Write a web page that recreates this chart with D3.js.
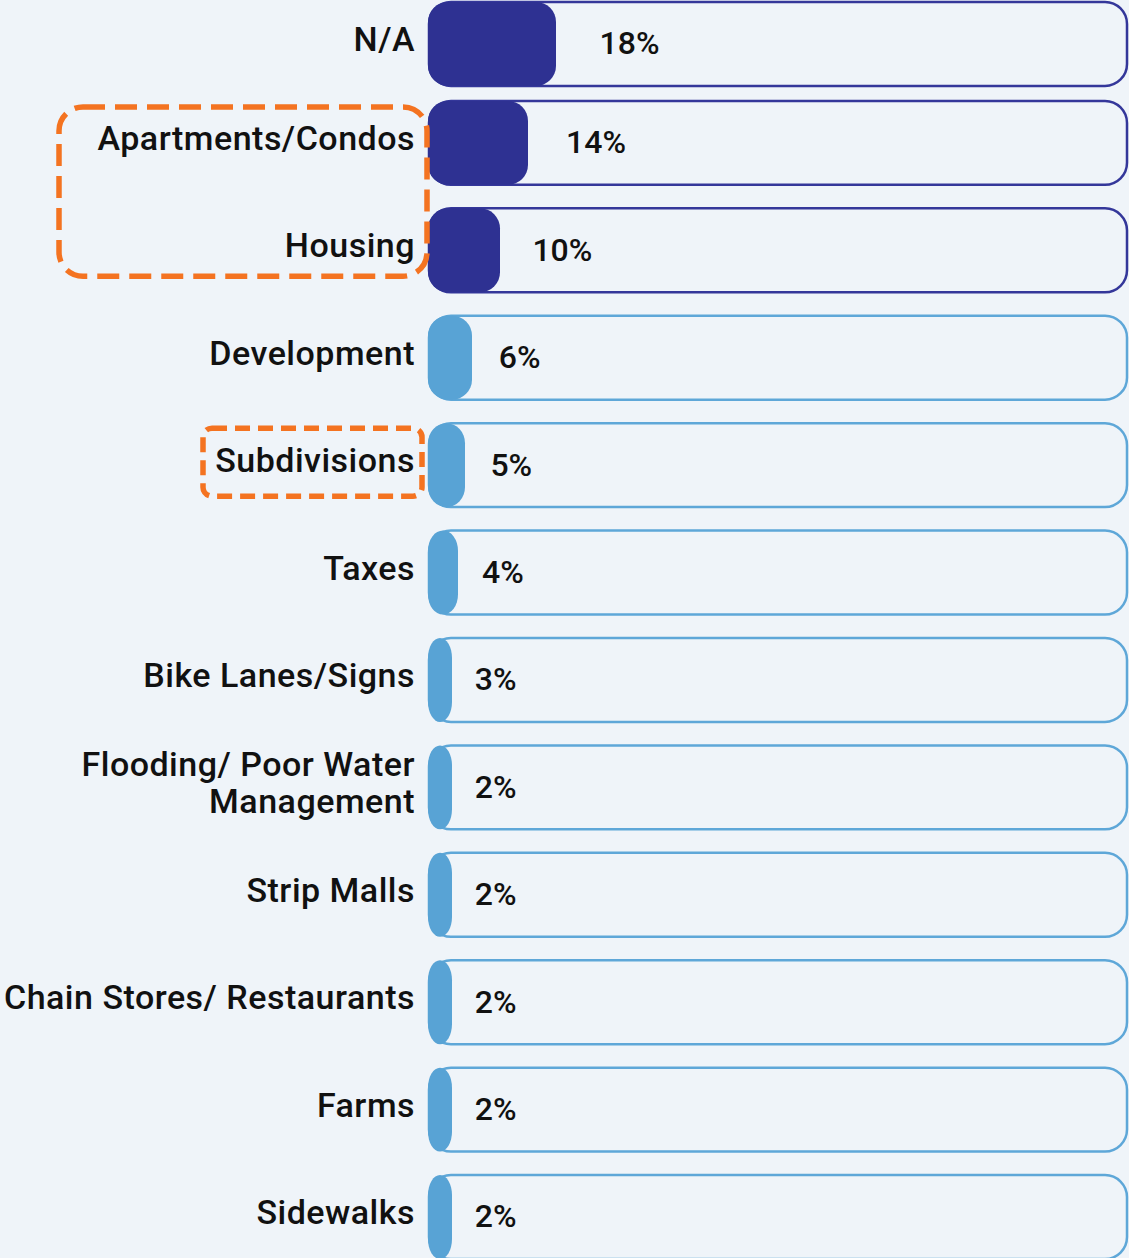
<!DOCTYPE html>
<html>
<head>
<meta charset="utf-8">
<script src="https://cdn.jsdelivr.net/npm/d3@7"></script>
<style>
  html, body { margin: 0; padding: 0; background: #eff4f9; }
  svg { display: block; }
  .lbl { font-family: Roboto, sans-serif; font-size: 34px; font-weight: 500; letter-spacing: 0.5px; fill: #111; }
  .pct { font-family: Roboto, sans-serif; font-size: 32px; font-weight: 500; fill: #111; }
</style>
</head>
<body>
<div id="chart"></div>
<script>
var categories = ['N/A', 'Apartments/Condos', 'Housing', 'Development', 'Subdivisions', 'Taxes',
  'Bike Lanes/Signs', 'Flooding/ Poor Water|Management', 'Strip Malls',
  'Chain Stores/ Restaurants', 'Farms', 'Sidewalks'];
var values = [18, 14, 10, 6, 5, 4, 3, 2, 2, 2, 2, 2];
var valueLabels = ['18%', '14%', '10%', '6%', '5%', '4%', '3%', '2%', '2%', '2%', '2%', '2%'];
var topGroup = ['N/A', 'Apartments/Condos', 'Housing'];
var highlightA = ['Apartments/Condos', 'Housing'];
var highlightB = ['Subdivisions'];

var W = 1129, H = 1258;
var dark = '#2e3192', light = '#58a3d5', orange = '#f47321';

var svg = d3.select('#chart').append('svg')
  .attr('width', W)
  .attr('height', H);

var left = 429, right = 1127;

var y = d3.scaleBand()
  .domain(categories)
  .range([-6.5, 1259])
  .paddingInner(0.2186)
  .paddingOuter(0);

// first row is pinned to the top edge
function rowTop(d) { return Math.max(y(d), 2); }

var x = d3.scaleLinear().domain([0, 100]).range([0, 700]);

function fillW(v) { return Math.max(x(v) + 2, 24); }

var rows = svg.selectAll('.row')
  .data(categories)
  .enter().append('g')
  .attr('class', 'row')
  .attr('transform', function(d) { return 'translate(0,' + rowTop(d) + ')'; });

// track
rows.append('rect')
  .attr('x', left)
  .attr('y', 0)
  .attr('width', right - left)
  .attr('height', y.bandwidth())
  .attr('rx', 22)
  .attr('fill', '#eff4f9')
  .attr('stroke', function(d) { return topGroup.indexOf(d) >= 0 ? '#34379a' : '#5ea7d8'; })
  .attr('stroke-width', 2.5);

// fill
rows.append('rect')
  .attr('x', left - 1)
  .attr('y', 0)
  .attr('width', function(d, i) { return fillW(values[i]); })
  .attr('height', y.bandwidth())
  .attr('rx', 20)
  .attr('fill', function(d) { return topGroup.indexOf(d) >= 0 ? dark : light; });

// value labels
rows.append('text')
  .attr('class', 'pct')
  .attr('x', function(d, i) { var w = fillW(values[i]); return left + w * 1.2 + 17; })
  .attr('y', y.bandwidth() / 2 + 2)
  .attr('dominant-baseline', 'middle')
  .text(function(d, i) { return valueLabels[i]; });

// category labels
rows.each(function(d) {
  var lines = d.split('|');
  var t = d3.select(this).append('text')
    .attr('class', 'lbl')
    .attr('text-anchor', 'end')
    .attr('dominant-baseline', 'middle');
  lines.forEach(function(l, j) {
    t.append('tspan')
      .attr('x', 415)
      .attr('y', y.bandwidth() / 2 - 2 + (j - (lines.length - 1) / 2) * 37)
      .text(l);
  });
});

// highlight boxes
var boxA0 = rowTop(highlightA[0]), boxA1 = rowTop(highlightA[highlightA.length - 1]) + y.bandwidth();
svg.append('rect')
  .attr('x', 59)
  .attr('y', boxA0 + 6)
  .attr('width', 427 - 59)
  .attr('height', boxA1 - boxA0 - 22)
  .attr('rx', 24)
  .attr('fill', 'none')
  .attr('stroke', orange)
  .attr('stroke-width', 5.5)
  .attr('stroke-dasharray', '22,10');

var boxB = rowTop(highlightB[0]);
svg.append('rect')
  .attr('x', 203)
  .attr('y', boxB + 5)
  .attr('width', 422 - 203)
  .attr('height', 68)
  .attr('rx', 9)
  .attr('fill', 'none')
  .attr('stroke', orange)
  .attr('stroke-width', 5.5)
  .attr('stroke-dasharray', '15,8');
</script>
</body>
</html>
